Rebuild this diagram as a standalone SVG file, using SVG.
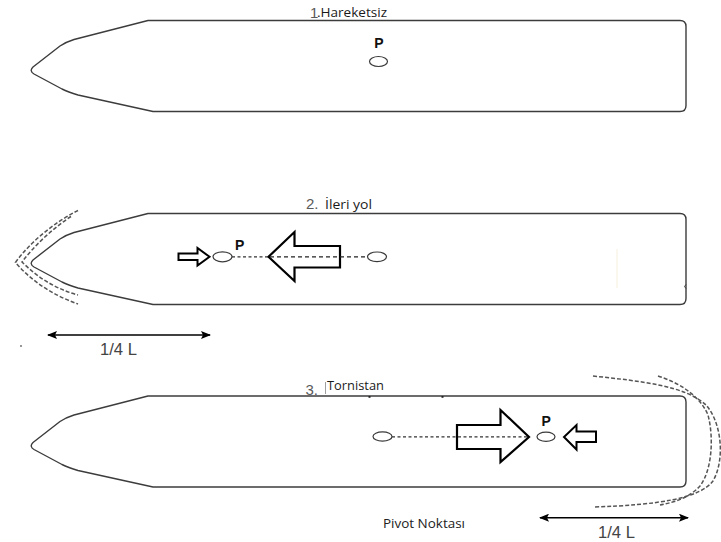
<svg xmlns="http://www.w3.org/2000/svg" width="721" height="542" viewBox="0 0 721 542">
  <style>
    .hull { fill: #ffffff; stroke: #3c3c3c; stroke-width: 1.4; stroke-linejoin: round; }
    .pt { fill: #ffffff; stroke: #3a3a3a; stroke-width: 1.2; }
    .plabel { font-family: "Liberation Sans", Arial, sans-serif; font-weight: bold; font-size: 14px; fill: #111; }
    .num { font-family: "Liberation Sans", Arial, sans-serif; font-size: 15px; fill: #5a5a5a; }
    .title { font-family: "Open Sans", "Liberation Sans", sans-serif; font-size: 12px; fill: #1a1a1a; }
    .dim { font-family: "Liberation Sans", Arial, sans-serif; font-size: 16px; fill: #444; }
    .note { font-family: "Open Sans", "Liberation Sans", sans-serif; font-size: 12.5px; fill: #222; }
    .bigarrow { fill: #ffffff; stroke: #000; stroke-width: 2.2; stroke-linejoin: miter; }
    .smallarrow { fill: #ffffff; stroke: #000; stroke-width: 2; stroke-linejoin: miter; }
    .dots { fill: none; stroke: #333; stroke-width: 1.3; stroke-dasharray: 3 2.5; }
    .dash { fill: none; stroke: #222; stroke-width: 1.2; stroke-dasharray: 4 3; }
    .wake { fill: none; stroke: #555; stroke-width: 1.5; stroke-dasharray: 4 2; }
    .dimline { fill: none; stroke: #000; stroke-width: 1.6; }
  </style>
  <defs>
    <!-- ship outline, deck edge at y=0, keel line at y=91 -->
    <path id="hullShape" d="M148,0 H680 Q686,0 686,6 V85 Q686,91 680,91 H153 L78,74.5 Q68,71.5 62,68.5 L34,53.5 Q29,50.5 33,46.5 L60,25.5 Q66,21.5 74,19 Z"/>
    <marker id="head" viewBox="0 0 10 8" refX="9" refY="4" markerWidth="10" markerHeight="8" markerUnits="userSpaceOnUse" orient="auto-start-reverse">
      <path d="M0,0 L10,4 L0,8 L2,4 Z" fill="#000"/>
    </marker>
  </defs>

  <rect width="721" height="542" fill="#ffffff"/>

  <!-- 1. stationary ship -->
  <g id="ship1">
    <use href="#hullShape" class="hull" transform="translate(0,20.5)"/>
    <text class="num" x="310" y="17.5" font-size="13">1</text>
    <text class="title" x="317" y="17" textLength="70" lengthAdjust="spacingAndGlyphs">.Hareketsiz</text>
    <text class="plabel" x="379" y="48" text-anchor="middle">P</text>
    <ellipse class="pt" cx="378.5" cy="61.5" rx="9" ry="5"/>
  </g>

  <!-- 2. ahead -->
  <g id="ship2">
    <use href="#hullShape" class="hull" transform="translate(0,213.5)"/>
    <path d="M686,284.5 l-1.5,2 l1.5,2" fill="none" stroke="#3c3c3c" stroke-width="1"/>
    <line x1="617" y1="249" x2="617" y2="288" stroke="#f6efdf" stroke-width="1"/>
    <text class="num" x="306" y="208.5">2.</text>
    <text class="title" x="325" y="208.5" textLength="47" lengthAdjust="spacingAndGlyphs">İleri yol</text>
    <path class="smallarrow" d="M178.5,253.5 H197.5 V248 L209.5,256.8 L197.5,265.5 V260 H178.5 Z"/>
    <ellipse class="pt" cx="222.5" cy="256.8" rx="9.5" ry="5"/>
    <text class="plabel" x="235" y="250">P</text>
    <path class="bigarrow" d="M340,246 H294.5 V232 L268.5,256.8 L294.5,281 V267.5 H340 Z"/>
    <ellipse class="pt" cx="377" cy="256.8" rx="9.5" ry="4.8"/>
  </g>

  <!-- 3. astern -->
  <g id="ship3">
    <use href="#hullShape" class="hull" transform="translate(0,396)"/>
    <rect x="368.5" y="396" width="2" height="1.8" fill="#222"/>
    <rect x="441.5" y="396" width="2" height="1.8" fill="#222"/>
    <text class="num" x="305.5" y="395">3.</text>
    <line x1="325.5" y1="382" x2="325.5" y2="394" stroke="#888" stroke-width="0.8"/>
    <text class="title" x="327" y="389.5" textLength="57" lengthAdjust="spacingAndGlyphs">Tornistan</text>
    <ellipse class="pt" cx="382.5" cy="436.5" rx="9.5" ry="4.6"/>
    <path class="bigarrow" d="M457,425 H500.5 V410 L529,437 L500.5,462 V449 H457 Z"/>
    <ellipse class="pt" cx="546" cy="436.8" rx="9" ry="4.6"/>
    <text class="plabel" x="541.5" y="426">P</text>
    <path class="smallarrow" d="M596,431.5 H576.5 V425 L564,437 L576.5,449.5 V442 H596 Z"/>
    <text class="note" x="383" y="527.5" textLength="82" lengthAdjust="spacingAndGlyphs">Pivot Noktası</text>
  </g>

  <!-- water pushed ahead of the bow and astern of the stern -->
  <g id="wakes">
    <path class="wake" d="M78,210.5 C55,222 30,242 15.5,262.5 C32,282 55,296 78,304"/>
    <path class="wake" d="M71,216.5 C52,229 34,246 22,262 C38,278 56,289 78,295"/>
    <path class="wake" d="M593,376 C640,381 686,386 706,405 C722,423 725,460 713,481 C700,498 660,505 593,507"/>
    <path class="wake" d="M658,376 C680,383 700,396 708,415 C714,438 712,470 700,486 C690,497 676,502 660,505"/>
  </g>

  <!-- connectors: pivot lines and quarter-length dimensions -->
  <g id="connectors">
    <line class="dots" x1="232" y1="256.8" x2="268" y2="256.8"/>
    <line class="dash" x1="270" y1="256.8" x2="367.5" y2="256.8"/>
    <line class="dots" x1="392" y1="436.8" x2="528" y2="436.8"/>
    <line class="dimline" x1="48" y1="335" x2="210" y2="335" marker-start="url(#head)" marker-end="url(#head)"/>
    <line class="dimline" x1="540" y1="517.7" x2="688" y2="517.7" marker-start="url(#head)" marker-end="url(#head)"/>
    <text class="dim" x="100" y="355" textLength="37" lengthAdjust="spacingAndGlyphs">1/4 L</text>
    <text class="dim" x="598" y="538" textLength="37" lengthAdjust="spacingAndGlyphs">1/4 L</text>
    <circle cx="21" cy="346" r="0.9" fill="#666"/>
  </g>
</svg>
